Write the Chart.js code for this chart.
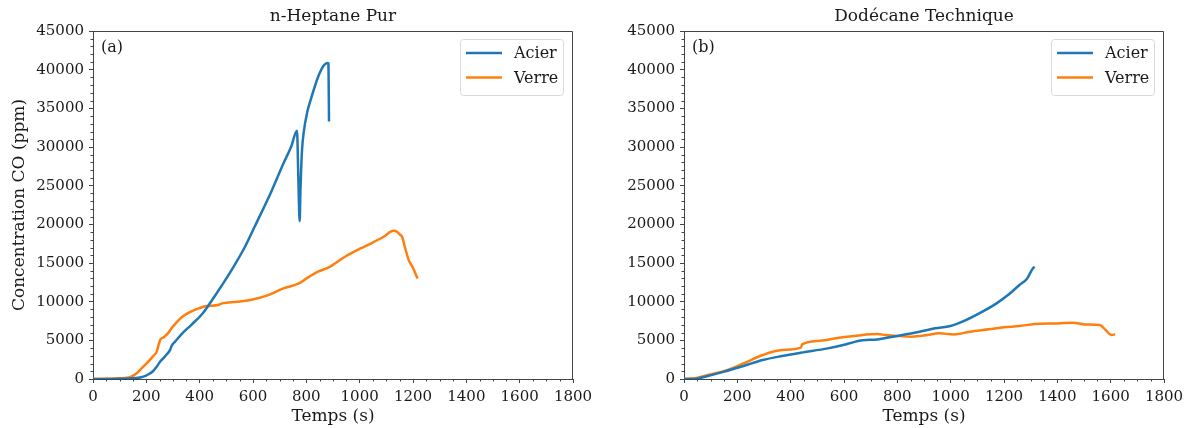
<!DOCTYPE html>
<html><head><meta charset="utf-8">
<script src="https://cdn.jsdelivr.net/npm/chart.js@4.4.1/dist/chart.umd.min.js"></script>
<style>
html,body{margin:0;padding:0;background:#fff;}
#wrap{display:flex;width:1188px;height:428px;}
.c{position:relative;width:594px;height:428px;}
canvas{display:block;}
</style></head><body>
<div id="wrap"><div class="c"><canvas id="c1" width="594" height="428"></canvas></div><div class="c"><canvas id="c2" width="594" height="428"></canvas></div></div>
<script>
// ---- data ----
const xTickValues = [0,200,400,600,800,1000,1200,1400,1600,1800];
const yTickValues = [0,5000,10000,15000,20000,25000,30000,35000,40000,45000];
const seriesLabels = ['Acier','Verre'];
const panelTitles = ['n-Heptane Pur','Dodécane Technique'];
const panelTags = ['(a)','(b)'];
const xAxisTitle = 'Temps (s)';
const yAxisTitle = 'Concentration CO (ppm)';

const heptaneAcierT = [0,50,100,140,170,189,210,225,239,253,264,277,289,295,308,335,368,411,455,512,570,606,671,714,743,765,770,775,778,781,784,790,803,815,844,866,880,883,885];
const heptaneAcierV = [0,0,30,80,150,300,650,1000,1600,2300,2700,3200,3760,4300,4840,5900,6980,8480,10640,13650,17100,19680,24420,27860,30020,32100,26000,20400,24500,27500,29700,31860,34460,35960,39060,40570,40850,40800,33300];

const heptaneVerreT = [0,50,100,127,145,164,180,202,224,239,245,252,265,281,295,310,330,354,375,397,426,469,484,541,599,657,714,772,801,844,888,945,1003,1047,1090,1126,1140,1150,1159,1170,1184,1198,1217];
const heptaneVerreV = [0,30,100,150,350,740,1300,2040,2900,3540,4300,5060,5400,5900,6600,7190,7900,8480,8850,9130,9430,9560,9780,9990,10290,10850,11710,12360,13010,13870,14510,15810,16880,17610,18390,19160,19040,18700,18390,17000,15370,14510,13010];

const dodecaneAcierT = [0,40,79,151,223,295,367,438,539,597,640,670,726,798,884,942,999,1057,1114,1172,1215,1258,1287,1308,1315];
const dodecaneAcierV = [0,0,300,950,1680,2450,2970,3400,3960,4390,4800,5000,5120,5560,6120,6550,6850,7620,8610,9780,10850,12150,13010,14300,14510];

const dodecaneVerreT = [0,40,79,151,223,295,367,438,443,510,582,654,726,755,798,855,913,956,1014,1071,1143,1200,1258,1315,1402,1459,1502,1560,1581,1603,1617];
const dodecaneVerreV = [0,100,430,1030,2020,3100,3750,4050,4480,4950,5340,5640,5810,5680,5560,5470,5680,5900,5770,6120,6420,6680,6850,7110,7190,7280,7060,6980,6330,5690,5770];

// ---- styling ----
const FONT = "'DejaVu Serif', 'Liberation Serif', serif";
const COLORS = ['#1f77b4', '#ff7f0e'];
const AXIS = '#444';
const TEXT = '#1a1a1a';

function pts(t, v) { return t.map((x, i) => ({x: x, y: v[i]})); }

const decor = {
  id: 'decor',
  afterDraw(chart, args, o) {
    const {ctx, chartArea: a, scales: {x, y}} = chart;
    ctx.save();
    ctx.strokeStyle = AXIS; ctx.lineWidth = 1;
    ctx.beginPath();
    for (let v = 50; v < 1800; v += 50) {
      if (v % 200 === 0) continue;
      const px = Math.round(x.getPixelForValue(v)) + 0.5;
      ctx.moveTo(px, a.bottom); ctx.lineTo(px, a.bottom + 2.5);
    }
    for (let v = 1000; v < 45000; v += 1000) {
      if (v % 5000 === 0) continue;
      const py = Math.round(y.getPixelForValue(v)) + 0.5;
      ctx.moveTo(a.left, py); ctx.lineTo(a.left - 2.5, py);
    }
    const L = Math.round(a.left) + 0.5, R = Math.round(a.right) - 0.5, T = Math.round(a.top) + 0.5, B = Math.round(a.bottom);
    ctx.moveTo(L, T); ctx.lineTo(R, T); ctx.lineTo(R, B);
    ctx.stroke();

    ctx.fillStyle = TEXT;
    ctx.font = '16px ' + FONT;
    ctx.textBaseline = 'middle';
    ctx.textAlign = 'left';
    ctx.fillText(o.tag, a.left + 8, a.top + 17);

    const bw = 103, bh = 56;
    const bx = a.right - 10 - bw, by = a.top + 8;
    ctx.beginPath();
    ctx.strokeStyle = '#d9d9d9'; ctx.lineWidth = 1;
    ctx.fillStyle = 'rgba(255,255,255,0.8)';
    if (ctx.roundRect) ctx.roundRect(bx + 0.5, by + 0.5, bw, bh, 3); else ctx.rect(bx + 0.5, by + 0.5, bw, bh);
    ctx.fill(); ctx.stroke();
    ctx.font = '16px ' + FONT;
    chart.data.datasets.forEach((ds, i) => {
      const ly = by + 14 + i * 24.5;
      ctx.beginPath();
      ctx.strokeStyle = ds.borderColor; ctx.lineWidth = 2.5;
      ctx.moveTo(bx + 6, ly); ctx.lineTo(bx + 42, ly);
      ctx.stroke();
      ctx.fillStyle = TEXT;
      ctx.fillText(ds.label, bx + 54, ly + 1);
    });
    ctx.restore();
  }
};

function makeChart(id, idx, dataSets, yWidth, padRight) {
  const showYTitle = idx === 0;
  return new Chart(document.getElementById(id), {
    type: 'line',
    data: {
      datasets: dataSets.map((d, i) => ({
        label: seriesLabels[i],
        data: pts(d[0], d[1]),
        borderColor: COLORS[i],
        backgroundColor: COLORS[i],
        borderWidth: 2.5,
        pointRadius: 0,
        cubicInterpolationMode: 'monotone',
        fill: false
      }))
    },
    options: {
      responsive: false,
      animation: false,
      events: [],
      layout: {padding: {left: 0, right: padRight, top: 0, bottom: 0}},
      plugins: {
        legend: {display: false},
        tooltip: {enabled: false},
        title: {
          display: true, fullSize: false, text: panelTitles[idx], color: TEXT,
          font: {family: FONT, size: 17, weight: 'normal', lineHeight: 1.2},
          padding: {top: 6, bottom: 4.6}
        },
        decor: {tag: panelTags[idx]}
      },
      scales: {
        x: {
          type: 'linear', min: 0, max: 1800,
          afterBuildTicks: s => { s.ticks = xTickValues.map(v => ({value: v})); },
          afterFit: s => { s.height = 49; s.paddingLeft = 0; s.paddingRight = 0; },
          ticks: {color: TEXT, font: {family: FONT, size: 15}, padding: 5, maxRotation: 0, callback: v => String(v)},
          grid: {drawOnChartArea: false, drawTicks: true, tickLength: 4, color: AXIS},
          border: {display: true, color: AXIS, width: 1},
          title: {display: true, text: xAxisTitle, color: TEXT, font: {family: FONT, size: 17, lineHeight: 1.2}, padding: {top: 0, bottom: 1}}
        },
        y: {
          type: 'linear', min: 0, max: 45000,
          afterBuildTicks: s => { s.ticks = yTickValues.map(v => ({value: v})); },
          afterFit: s => { s.width = yWidth; s.paddingTop = 0; s.paddingBottom = 0; },
          ticks: {color: TEXT, font: {family: FONT, size: 15}, padding: 5, callback: v => String(v)},
          grid: {drawOnChartArea: false, drawTicks: true, tickLength: 4, color: AXIS},
          border: {display: true, color: AXIS, width: 1},
          title: {display: showYTitle, text: yAxisTitle, color: TEXT, font: {family: FONT, size: 17, lineHeight: 1.2}, padding: {top: 9, bottom: 0}}
        }
      }
    },
    plugins: [decor]
  });
}

makeChart('c1', 0, [[heptaneAcierT, heptaneAcierV], [heptaneVerreT, heptaneVerreV]], 93, 21);
makeChart('c2', 1, [[dodecaneAcierT, dodecaneAcierV], [dodecaneVerreT, dodecaneVerreV]], 90, 24);
</script>
</body></html>
